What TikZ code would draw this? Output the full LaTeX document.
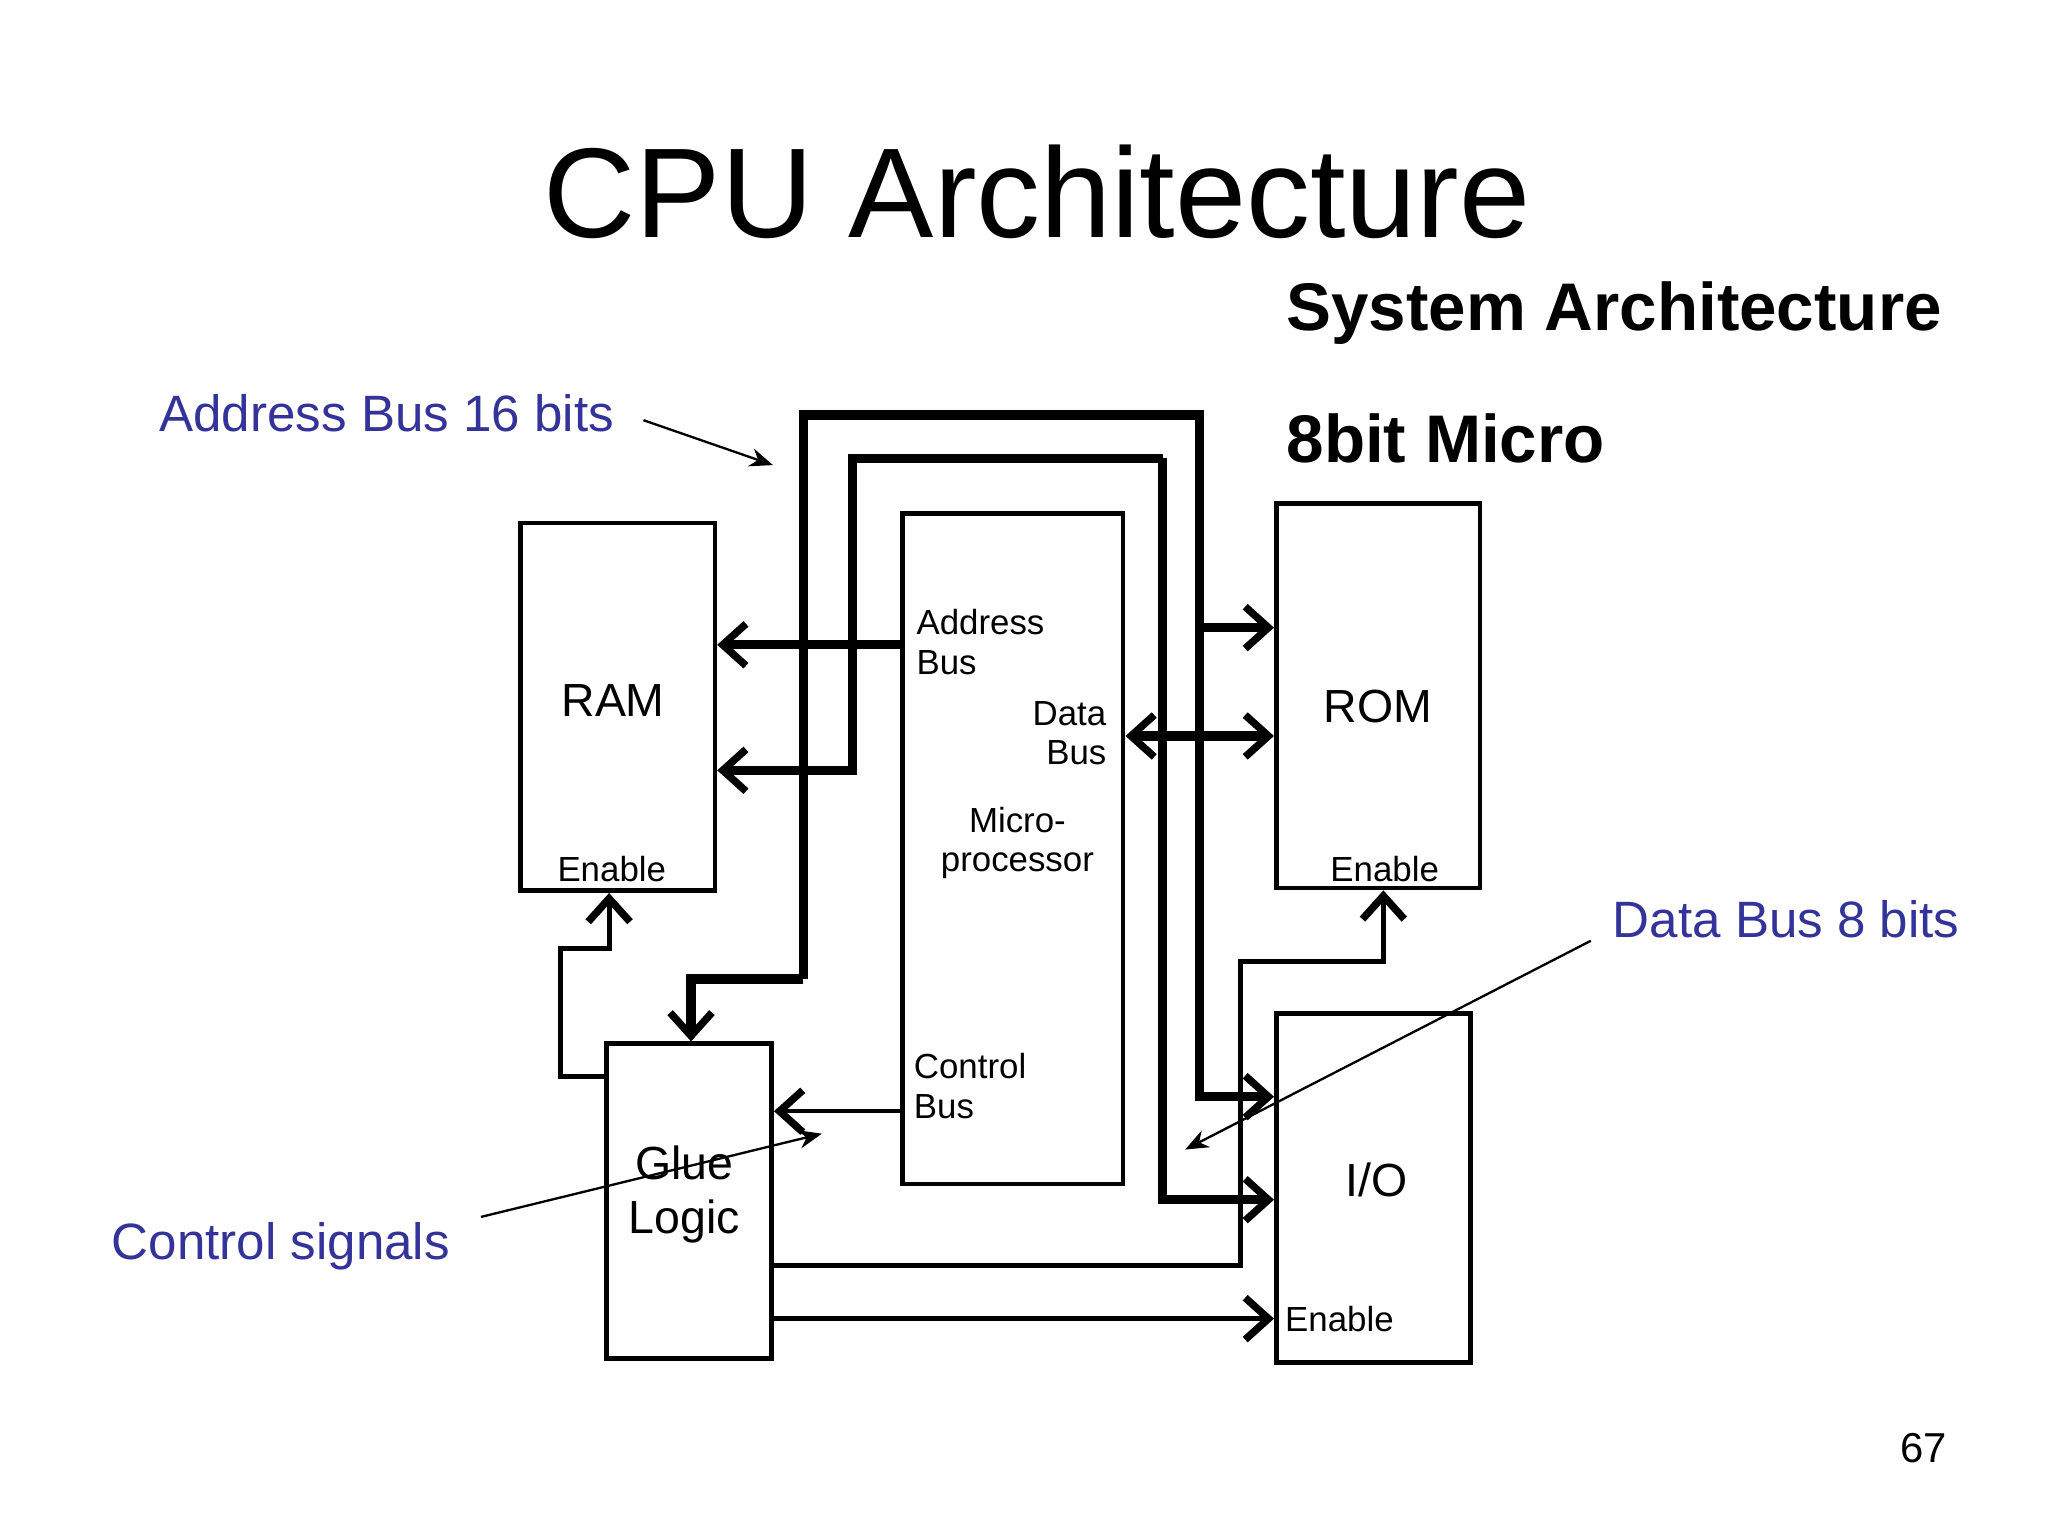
\documentclass[tikz,border=0pt]{standalone}
\usepackage{fontspec}
\setmainfont{Liberation Sans}
\usetikzlibrary{arrows.meta}
\definecolor{labelblue}{HTML}{333399}
\begin{document}
\begin{tikzpicture}[x=0.01cm,y=-0.01cm,
  box/.style={draw,line width=1pt,inner sep=0pt},
  bus/.style={line width=2pt},
  sig/.style={line width=1.1pt},
  tip/.style={-{Straight Barb[length=5pt,width=9pt,line width=1.6pt]}},
  dtip/.style={{Straight Barb[length=5pt,width=9pt,line width=1.6pt]}-{Straight Barb[length=5pt,width=9pt,line width=1.6pt]}},
  note/.style={labelblue,font=\fontsize{11}{13}\selectfont,inner sep=0pt},
  lbl/.style={font=\fontsize{10}{12}\selectfont},
  sml/.style={font=\fontsize{7.5}{8.5}\selectfont,align=left,inner sep=0pt}]
\useasboundingbox (0,0) rectangle (1550,1163);
% boxes
\node[box,minimum width=1.47cm,minimum height=2.78cm] (ram) at (467.5,535) {};
\node[box,minimum width=1.67cm,minimum height=5.07cm] (cpu) at (766.5,642.5) {};
\node[box,minimum width=1.54cm,minimum height=2.91cm] (rom) at (1043,526.5) {};
\node[box,minimum width=1.47cm,minimum height=2.64cm] (io) at (1039.5,899) {};
\node[box,minimum width=1.25cm,minimum height=2.38cm] (glue) at (521.5,909) {};
% titles
\node[font=\fontsize{27.5}{32}\selectfont] (title) at (785,145) {CPU Architecture};
\node[anchor=west,inner sep=0pt,font=\bfseries\fontsize{14.5}{17}\selectfont] (sys) at (973,237) {System Architecture};
\node[anchor=west,inner sep=0pt,font=\bfseries\fontsize{14.5}{17}\selectfont] (micro) at (973,332) {8bit Micro};
% box labels
\node[lbl] (ramt) at (464,530) {RAM};
\node[lbl] (romt) at (1043,535) {ROM};
\node[lbl] (iot) at (1042,893) {I/O};
\node[lbl,align=center,font=\fontsize{10}{11.5}\selectfont] (gluet) at (518,904) {Glue\\Logic};
\node[sml] (ramen) at (463,658) {Enable};
\node[sml] (romen) at (1048,658) {Enable};
\node[sml,anchor=west] (ioen) at (972,998) {Enable};
\node[sml,anchor=west] (addrt) at (693,486) {Address\\Bus};
\node[sml,anchor=east,align=right] (datat) at (838,555) {Data\\Bus};
\node[sml,align=center] (cput) at (770,638) {Micro-\\processor};
\node[sml,anchor=west] (ctrlt) at (691,822) {Control\\Bus};
% address bus
\coordinate (a1) at (608,741);
\coordinate (a2) at (608,314);
\coordinate (a3) at (908,314);
\coordinate (a4) at (908,830);
\draw[bus,tip,line join=miter] (a1) -| (glue.north -| 523,0);
\draw[bus,tip] (a1) -- (a2) -- (a3) -- (a4) -- (io.west |- a4);
\draw[bus,tip] (cpu.west |- 0,488) -- (ram.east |- 0,488);
\draw[bus,tip] (908,475) -- (rom.west |- 0,475);
\fill (608,488) circle (4);
% data bus
\coordinate (d1) at (645,583);
\coordinate (d2) at (645,347);
\coordinate (d3) at (880,347);
\coordinate (d4) at (880,908);
\draw[bus,tip] (d3) -- (d2) -- (d1) -- (ram.east |- d1);
\draw[bus,tip] (d3) -- (d4) -- (io.west |- d4);
\draw[bus,dtip] (cpu.east |- 0,557) -- (rom.west |- 0,557);
% enables
\draw[sig,tip] (glue.west |- 0,815) -- (424,815) -- (424,718) -| (ram.south -| 461,0);
\draw[sig,tip] (glue.east |- 0,958) -- (939,958) -- (939,728) -| (rom.south -| 1047,0);
\draw[sig,tip] (glue.east |- 0,998) -- (io.west |- 0,998);
\draw[line width=0.9pt,tip] (cpu.west |- 0,841) -- (glue.east |- 0,841);
% annotations
\node[note,anchor=west] (anote) at (120,313) {Address Bus 16 bits};
\node[note,anchor=west] (dnote) at (1220,696) {Data Bus 8 bits};
\node[note,anchor=west] (cnote) at (84,943) {Control signals};
\coordinate (ap) at (585,352);
\coordinate (dp) at (897,870);
\coordinate (cp) at (622,858);
\draw[line width=0.5pt,-{Stealth[length=5pt,width=4pt]}] (487,318) -- (ap);
\draw[line width=0.5pt,-{Stealth[length=5pt,width=4pt]}] (1204,712) -- (dp);
\draw[line width=0.5pt,-{Stealth[length=5pt,width=4pt]}] (364,921) -- (cp);
\node[font=\fontsize{9}{11}\selectfont,inner sep=0pt] (page) at (1456,1096) {67};
\end{tikzpicture}
\end{document}
